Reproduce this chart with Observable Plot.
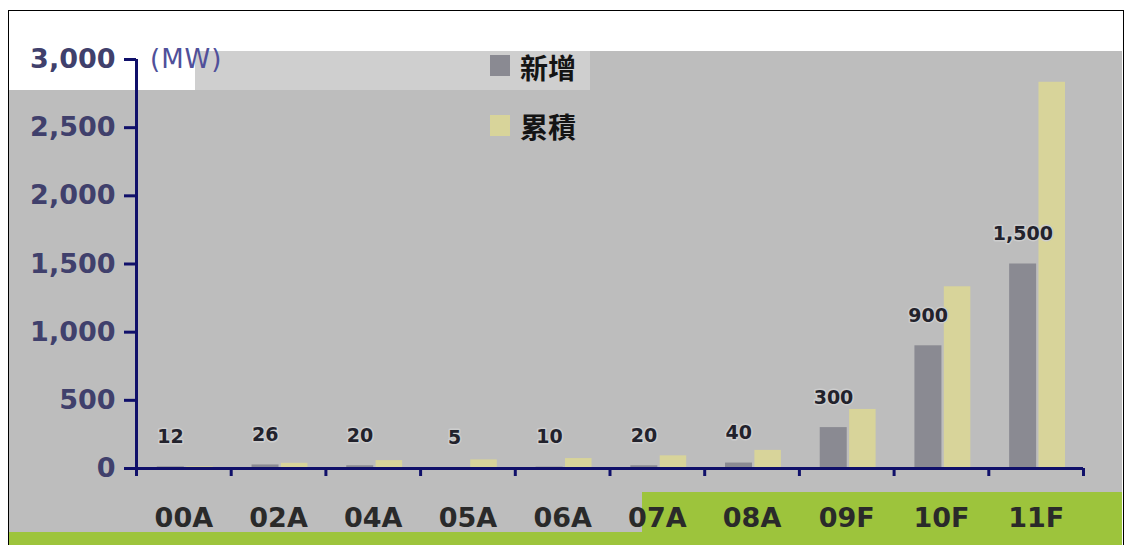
<!DOCTYPE html>
<html><head><meta charset="utf-8">
<script src="https://cdn.jsdelivr.net/npm/d3@7"></script>
<script src="https://cdn.jsdelivr.net/npm/@observablehq/plot@0.6"></script>
<style>
body{margin:0;background:#fff;}
#wrap{position:relative;width:1126px;height:545px;overflow:hidden;font-family:"DejaVu Sans",sans-serif;}
.bg{position:absolute;}
#chart{position:absolute;left:0;top:0;}
.sw{position:absolute;width:20px;height:21px;}
.lg{position:absolute;font-family:"Noto Sans CJK TC",sans-serif;font-weight:bold;font-size:28px;color:#141414;line-height:30px;}
#unit{position:absolute;left:150px;top:44px;font-size:26px;color:#50509a;line-height:30px;letter-spacing:1px;}
</style></head><body>
<div id="wrap">
  <div class="bg" style="left:9px;top:51px;width:1113px;height:494px;background:#bdbdbd"></div>
  <div class="bg" style="left:9px;top:11px;width:1113px;height:40px;background:#fff"></div>
  <div class="bg" style="left:9px;top:51px;width:186px;height:39px;background:#fff"></div>
  <div class="bg" style="left:195px;top:51px;width:395px;height:39px;background:#cfcfcf"></div>
  <div class="bg" style="left:642px;top:492px;width:480px;height:53px;background:#9dc43c"></div>
  <div class="bg" style="left:9px;top:532px;width:1113px;height:13px;background:#9dc43c"></div>
  <div class="bg" style="left:8px;top:10px;width:1116px;height:545px;border:1.5px solid #000;box-sizing:border-box"></div>
  <div id="chart"></div>
  <div id="unit"></div>
  <div class="sw" id="sw0" style="left:490px;top:55px"></div>
  <div class="lg" id="lg0" style="left:520px;top:52px"></div>
  <div class="sw" id="sw1" style="left:490px;top:115px"></div>
  <div class="lg" id="lg1" style="left:520px;top:111px"></div>
</div>
<script>
const categories = ["00A","02A","04A","05A","06A","07A","08A","09F","10F","11F"];
const added = [12,26,20,5,10,20,40,300,900,1500];
const cumulative = [12,38,58,63,73,93,133,433,1333,2833];
const yTicks = [0,500,1000,1500,2000,2500,3000];
const seriesNames = ["新增","累積"];
const seriesColors = ["#8a8a92","#d8d49a"];
const unitLabel = "(MW)";

const rows = categories.map((c,i)=>({category:c, index:i, added:added[i], cumulative:cumulative[i]}));
const axisColor = "#10106a";
const fmt = d3.format(",");

const plot = Plot.plot({
  width:1126, height:545,
  marginLeft:136, marginRight:43, marginTop:59, marginBottom:77,
  style:{background:"transparent", fontFamily:"DejaVu Sans, sans-serif", overflow:"visible"},
  x:{type:"linear", domain:[0,categories.length], axis:null},
  y:{domain:[0,3000], axis:null},
  marks:[
    Plot.rectY(rows,{x1:d=>d.index+0.22, x2:d=>d.index+0.505, y:"added", fill:seriesColors[0]}),
    Plot.rectY(rows,{x1:d=>d.index+0.53, x2:d=>d.index+0.81, y:"cumulative", fill:seriesColors[1]}),
    Plot.text(rows,{x:d=>d.index+0.36, y:"added", text:d=>fmt(d.added), dy:-30, fontSize:19, fontWeight:"bold", fill:"#22222c", stroke:"#cdcdcd", strokeWidth:3, paintOrder:"stroke"}),
    Plot.axisY({ticks:yTicks, tickFormat:fmt, tickSize:12, tickPadding:9, fontSize:27, fontWeight:"bold", stroke:axisColor, fill:"#40406c", strokeWidth:3}),
    Plot.axisX({ticks:d3.range(0,categories.length+1), tickFormat:()=>"", tickSize:8, stroke:axisColor, strokeWidth:3}),
    Plot.axisX({ticks:categories.map((c,i)=>i+0.5), tickFormat:d=>categories[Math.floor(d)], tickSize:0, tickPadding:39, fontSize:27, fontWeight:"bold", fill:"#2a2a2a"}),
    Plot.ruleX([0],{stroke:axisColor, strokeWidth:3}),
    Plot.ruleY([0],{stroke:axisColor, strokeWidth:3})
  ]
});
document.getElementById("chart").appendChild(plot);
document.getElementById("unit").textContent = unitLabel;
seriesNames.forEach((n,i)=>{
  document.getElementById("lg"+i).textContent = n;
  document.getElementById("sw"+i).style.background = seriesColors[i];
});
</script>
</body></html>
